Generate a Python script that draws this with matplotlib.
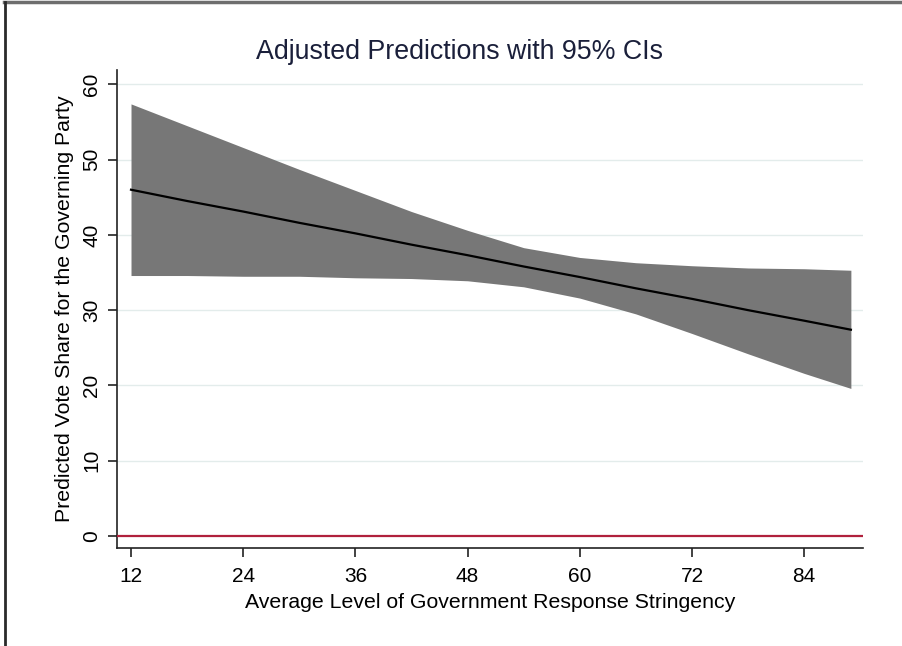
import matplotlib
matplotlib.use("Agg")
import matplotlib.pyplot as plt
from matplotlib.lines import Line2D

plt.rcParams['font.family'] = ['Liberation Sans', 'DejaVu Sans']

stringency = [12, 18, 24, 30, 36, 42, 48, 54, 60, 66, 72, 78, 84, 89]
predicted = [46.0, 44.5, 43.1, 41.6, 40.2, 38.7, 37.3, 35.8, 34.4, 32.9, 31.5, 30.0, 28.6, 27.4]
ci_upper = [57.4, 54.5, 51.6, 48.7, 45.9, 43.1, 40.6, 38.3, 37.0, 36.3, 35.9, 35.6, 35.5, 35.3]
ci_lower = [34.6, 34.6, 34.5, 34.5, 34.3, 34.2, 33.9, 33.1, 31.6, 29.5, 26.9, 24.2, 21.6, 19.6]
x_ticks = [12, 24, 36, 48, 60, 72, 84]
y_ticks = [0, 10, 20, 30, 40, 50, 60]

fig = plt.figure(figsize=(9.02, 6.46), dpi=100)
ax = fig.add_axes([0.1297, 0.1517, 0.8271, 0.7399])

for yt in y_ticks[1:]:
    ax.axhline(yt, color='#e3eceb', lw=1.0, zorder=0)

ax.fill_between(stringency, ci_lower, ci_upper, color='#777777', lw=0, zorder=2)
ax.plot(stringency, predicted, color='black', lw=1.6, zorder=3)
ax.axhline(0, color='#b0213c', lw=1.6, zorder=3)

ax.set_xlim(10.5, 90.3)
ax.set_ylim(-1.6, 61.9)
ax.set_xticks(x_ticks)
ax.set_yticks(y_ticks)
ax.tick_params(axis='both', labelsize=15, length=6.5, width=1.2, color='#222222')
ax.tick_params(axis='x', pad=7.5)
ax.tick_params(axis='y', labelrotation=90, pad=5)
for lbl in ax.get_yticklabels():
    lbl.set_va('center')
for s in ['top', 'right']:
    ax.spines[s].set_visible(False)
for s in ['left', 'bottom']:
    ax.spines[s].set_linewidth(1.2)
    ax.spines[s].set_color('#222222')

ax.set_xlabel('Average Level of Government Response Stringency', fontsize=15.3, labelpad=5)
ax.set_ylabel('Predicted Vote Share for the Governing Party', fontsize=15.3, labelpad=6)
fig.text(459/902, 1 - 52/646, 'Adjusted Predictions with 95% CIs', fontsize=19.3,
         color='#1a1f3a', ha='center', va='center')

# outer border lines
fig.add_artist(Line2D([4/902, 1], [1 - 2/646, 1 - 2/646], color='#6e6e6e', lw=2.5, transform=fig.transFigure))
fig.add_artist(Line2D([5/902, 5/902], [0, 1 - 2/646], color='#2a2a2a', lw=2.0, transform=fig.transFigure))

fig.savefig('out.png', dpi=100)
